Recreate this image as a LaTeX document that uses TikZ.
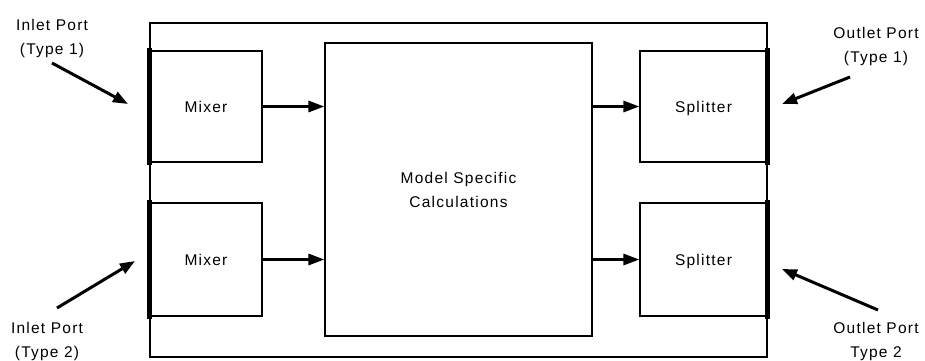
\documentclass[tikz,border=0pt]{standalone}
\usepackage{fontspec}
\setmainfont{Liberation Sans}[LetterSpace=8]
\usetikzlibrary{arrows.meta}
\begin{document}
\begin{tikzpicture}[x=1pt,y=-1pt,
  every node/.style={font=\fontsize{15.5}{24}\selectfont},
  blk/.style={draw=black,line width=1.2pt,inner sep=0pt},
  onel/.style={text height=11pt,text depth=0pt},
  flow/.style={line width=3pt,-{Triangle[length=16pt,width=11pt]}},
  portarrow/.style={line width=3pt,-{Triangle[length=15pt,width=11pt]}},
  portbar/.style={line width=5pt},
  lbl/.style={inner sep=0pt,align=center}]
\useasboundingbox (0,0) rectangle (925,360);
% unit enclosure
\node[blk,minimum width=617pt,minimum height=334pt] (unit) at (458.5,190) {};
% inlet mixers
\node[blk,onel,minimum width=112pt,minimum height=111pt] (mix1) at (206,106.5) {Mixer};
\node[blk,onel,minimum width=112pt,minimum height=113pt] (mix2) at (206,259.5) {Mixer};
% model core
\node[blk,minimum width=267pt,minimum height=293pt,align=center] (core) at (458.5,189.5) {Model Specific\\Calculations};
% outlet splitters
\node[blk,onel,minimum width=127pt,minimum height=111pt] (spl1) at (703.5,106.5) {Splitter};
\node[blk,onel,minimum width=127pt,minimum height=113pt] (spl2) at (703.5,259.5) {Splitter};
% port bars
\draw[portbar] ([yshift=2pt]mix1.north west) -- ([yshift=-2pt]mix1.south west);
\draw[portbar] ([yshift=2pt]mix2.north west) -- ([yshift=-2pt]mix2.south west);
\draw[portbar] ([yshift=2pt]spl1.north east) -- ([yshift=-2pt]spl1.south east);
\draw[portbar] ([yshift=2pt]spl2.north east) -- ([yshift=-2pt]spl2.south east);
% internal flows
\draw[flow] (mix1.east) -- (mix1.east -| core.west);
\draw[flow] (mix2.east) -- (mix2.east -| core.west);
\draw[flow] (spl1.west -| core.east) -- (spl1.west);
\draw[flow] (spl2.west -| core.east) -- (spl2.west);
% port labels
\node[lbl] (in1) at (52,38) {Inlet Port\\(Type 1)};
\node[lbl] (in2) at (47,341) {Inlet Port\\(Type 2)};
\node[lbl] (out1) at (876,46.5) {Outlet Port\\(Type 1)};
\node[lbl] (out2) at (876,341) {Outlet Port\\Type 2};
% port arrows
\coordinate (in1s) at (52,63);   \coordinate (in1e) at (128,104);
\coordinate (in2s) at (57,308);  \coordinate (in2e) at (135,261);
\coordinate (out1s) at (850,77); \coordinate (out1e) at (782,104);
\coordinate (out2s) at (878,310);\coordinate (out2e) at (782,269);
\draw[portarrow] (in1s) -- (in1e);
\draw[portarrow] (in2s) -- (in2e);
\draw[portarrow] (out1s) -- (out1e);
\draw[portarrow] (out2s) -- (out2e);
\end{tikzpicture}
\end{document}
